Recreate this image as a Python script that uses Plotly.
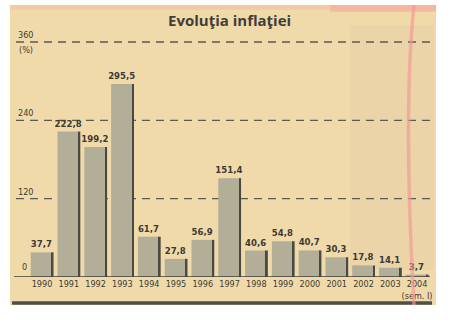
import plotly.graph_objects as go

years = ["1990", "1991", "1992", "1993", "1994", "1995", "1996", "1997",
         "1998", "1999", "2000", "2001", "2002", "2003", "2004"]
tick_labels = ["1990", "1991", "1992", "1993", "1994", "1995", "1996", "1997",
               "1998", "1999", "2000", "2001", "2002", "2003", "2004<br>(sem. I)"]
inflation = [37.7, 222.8, 199.2, 295.5, 61.7, 27.8, 56.9, 151.4,
             40.6, 54.8, 40.7, 30.3, 17.8, 14.1, 3.7]
grid_values = [120, 240, 360]
grid_labels = ["120", "240", "360"]

W, H = 450, 323
L, R, T, B = 15, 430, 30, 277  # plot area in pixels
YMAX = (277 - 30) / ((277 - 42) / 360)

def px(x):
    return (x - L) / (R - L)

def py(y):
    return (B - y) / (B - T)

pos = list(range(len(years)))
labels_txt = [f"{v:.1f}".replace(".", ",") for v in inflation]

PAPER = "#f1daa9"
BAR = "#b2ae98"
DARK = "#4a4a44"
FONT = "DejaVu Sans Condensed, Liberation Sans Narrow, Roboto, sans-serif"
TXT = "#3a3a36"

fig = go.Figure()
fig.add_trace(go.Bar(
    x=pos, y=inflation, width=0.79, offset=-0.42,
    marker=dict(color=BAR, line=dict(width=0)),
    text=labels_txt, textposition="outside", cliponaxis=False,
    constraintext="none",
    textfont=dict(family=FONT, size=9.5, color=TXT, weight="bold"),
    hoverinfo="skip",
))
fig.add_trace(go.Bar(
    x=pos, y=inflation, width=0.07, offset=0.36,
    marker=dict(color=DARK, line=dict(width=0)),
    hoverinfo="skip",
))

shapes = []
# paper background
shapes.append(dict(type="rect", xref="paper", yref="paper",
                   x0=px(10), x1=px(436), y0=py(305), y1=py(5),
                   fillcolor=PAPER, line=dict(width=0), layer="below"))
# pinkish top band
shapes.append(dict(type="rect", xref="paper", yref="paper",
                   x0=px(10), x1=px(436), y0=py(10), y1=py(5),
                   fillcolor="rgba(245,170,160,0.35)", line=dict(width=0), layer="below"))
shapes.append(dict(type="rect", xref="paper", yref="paper",
                   x0=px(330), x1=px(436), y0=py(12), y1=py(5),
                   fillcolor="rgba(245,160,150,0.45)", line=dict(width=0), layer="below"))
# faint grey patch (bleed-through)
shapes.append(dict(type="rect", xref="paper", yref="paper",
                   x0=px(350), x1=px(434), y0=py(270), y1=py(25),
                   fillcolor="rgba(190,180,160,0.13)", line=dict(width=0), layer="below"))
# dashed gridlines
for g in grid_values:
    shapes.append(dict(type="line", xref="paper", yref="y",
                       x0=px(16), x1=px(430), y0=g, y1=g,
                       line=dict(color="#5a5a55", width=1.3, dash="8px,6px"),
                       layer="below"))
# baseline
shapes.append(dict(type="line", xref="paper", yref="y",
                   x0=px(14), x1=px(430), y0=0, y1=0,
                   line=dict(color="#3e3e3a", width=1.5)))
# bottom thick rule
shapes.append(dict(type="line", xref="paper", yref="paper",
                   x0=px(12), x1=px(432), y0=py(303), y1=py(303),
                   line=dict(color="#4e4e4a", width=3.5)))
# pink marker stroke
shapes.append(dict(type="path", xref="paper", yref="paper",
                   path=f"M {px(414)},{py(5)} Q {px(403)},{py(110)} {px(414)},{py(305)}",
                   line=dict(color="rgba(246,150,150,0.65)", width=3.5)))

annotations = [
    dict(text="<b>Evoluţia inflaţiei</b>", xref="paper", yref="paper",
         x=px(229), y=py(20), xanchor="center", yanchor="middle", showarrow=False,
         font=dict(family="Open Sans, sans-serif", size=15, color="#3e3e3a")),
    dict(text="(%)", xref="paper", yref="paper", x=px(17), y=py(50),
         xanchor="left", yanchor="middle", showarrow=False,
         font=dict(family=FONT, size=9, color=TXT)),
    dict(text="0", xref="paper", yref="y", x=px(20), y=0, yshift=3,
         xanchor="left", yanchor="bottom", showarrow=False,
         font=dict(family=FONT, size=9, color=TXT)),
]
for g, lab in zip(grid_values, grid_labels):
    annotations.append(dict(text=lab, xref="paper", yref="y", x=px(16), y=g,
                            yshift=0, xanchor="left", yanchor="bottom", showarrow=False,
                            font=dict(family=FONT, size=9, color=TXT)))

fig.update_layout(
    width=W, height=H,
    margin=dict(l=L, r=W - R, t=T, b=H - B),
    paper_bgcolor="white", plot_bgcolor="rgba(0,0,0,0)",
    showlegend=False, barmode="overlay",
    shapes=shapes, annotations=annotations,
    xaxis=dict(range=[(L - 42) / 26.79, (R - 42) / 26.79],
               tickvals=pos, ticktext=tick_labels, showgrid=False,
               zeroline=False, showline=False, ticks="", tickangle=0,
               tickfont=dict(family=FONT, size=9, color=TXT)),
    yaxis=dict(range=[0, YMAX], showgrid=False, zeroline=False,
               showticklabels=False, showline=False, ticks=""),
)

fig.write_html("out.html")
